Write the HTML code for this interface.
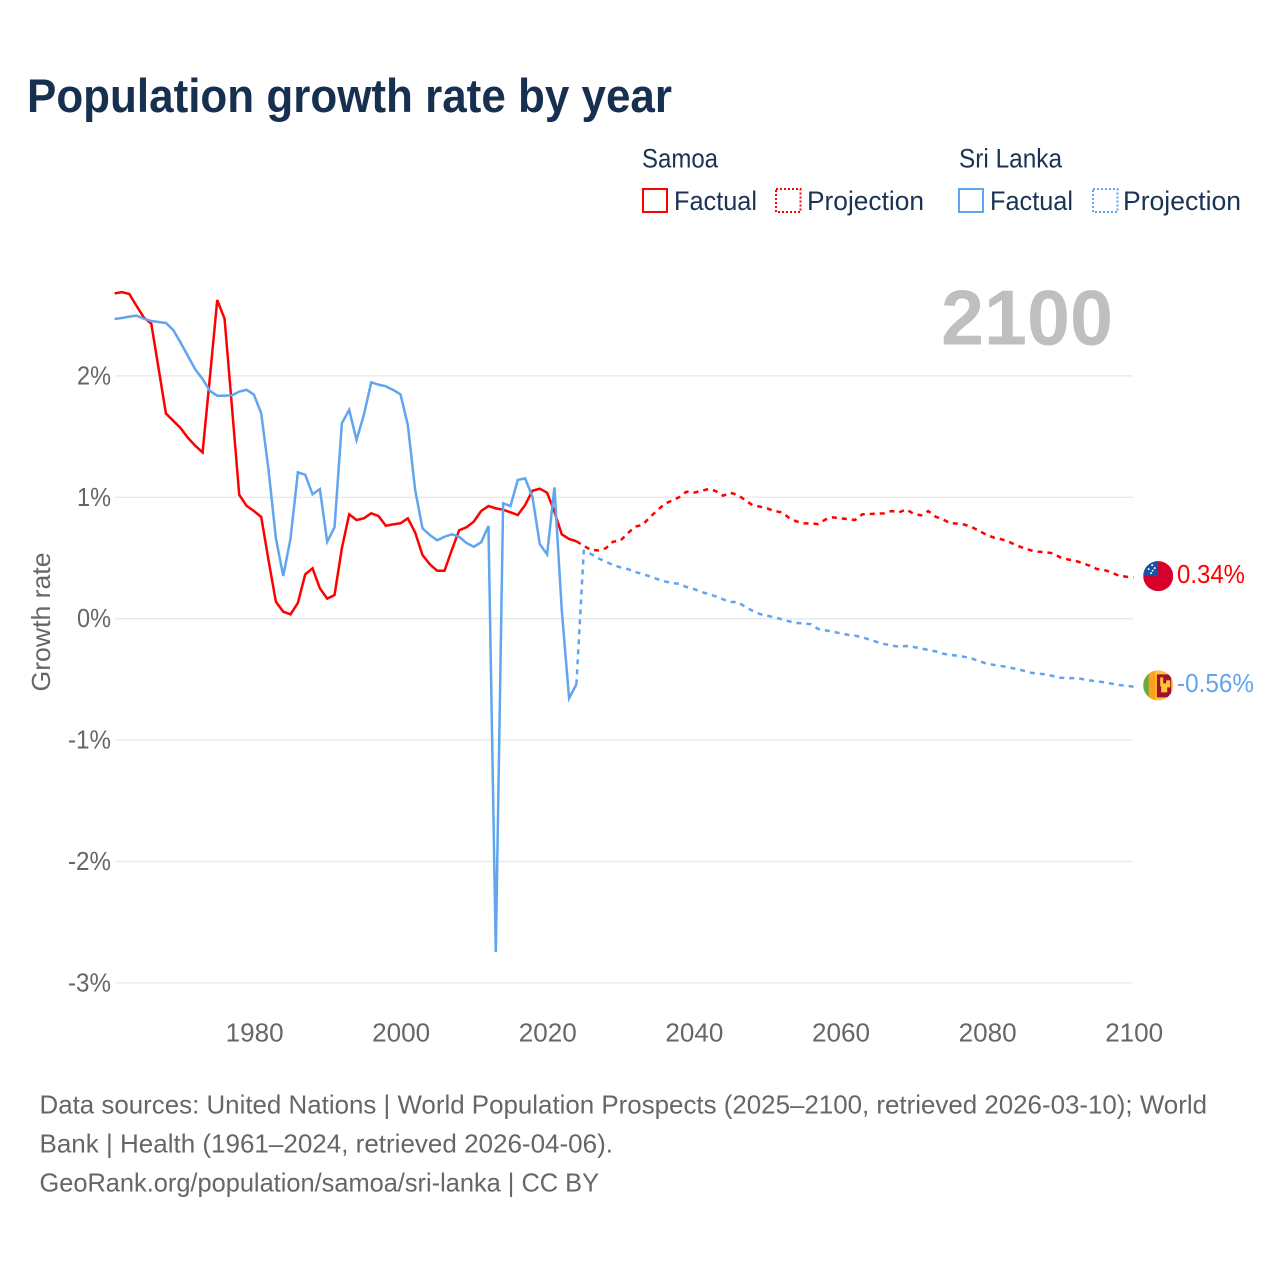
<!DOCTYPE html>
<html lang="en">
<head>
<meta charset="utf-8">
<title>Population growth rate by year</title>
<style>
html,body{margin:0;padding:0;background:#fff;}
svg{display:block;font-family:"Liberation Sans",sans-serif;}
.lg{font-size:26.5px;fill:#1a3353;}
.tick{font-size:26px;fill:#666;}
.foot{font-size:26px;fill:#666;}
</style>
</head>
<body>
<svg id="chart" width="1280" height="1280" viewBox="0 0 1280 1280" xmlns="http://www.w3.org/2000/svg">
  <rect width="1280" height="1280" fill="#fff"/>
  <text x="27" y="112" font-size="47" font-weight="bold" fill="#18304f" textLength="645" lengthAdjust="spacingAndGlyphs">Population growth rate by year</text>

  <g>
    <text class="lg" x="642" y="167.5" textLength="76" lengthAdjust="spacingAndGlyphs">Samoa</text>
    <rect x="643" y="189" width="24" height="23" fill="none" stroke="#ff0000" stroke-width="2"/>
    <text class="lg" x="674" y="210" textLength="83" lengthAdjust="spacingAndGlyphs">Factual</text>
    <rect x="776" y="189" width="24.5" height="23" fill="none" stroke="#ff0000" stroke-width="2" stroke-dasharray="2 2"/>
    <text class="lg" x="807" y="210" textLength="117" lengthAdjust="spacingAndGlyphs">Projection</text>
    <text class="lg" x="959" y="167.5" textLength="103" lengthAdjust="spacingAndGlyphs">Sri Lanka</text>
    <rect x="959" y="189" width="24" height="23" fill="none" stroke="#60a5ee" stroke-width="2"/>
    <text class="lg" x="990" y="210" textLength="83" lengthAdjust="spacingAndGlyphs">Factual</text>
    <rect x="1093" y="189" width="24.5" height="23" fill="none" stroke="#60a5ee" stroke-width="2" stroke-dasharray="2 2"/>
    <text class="lg" x="1123" y="210" textLength="118" lengthAdjust="spacingAndGlyphs">Projection</text>
  </g>

  <text x="941" y="344.5" font-size="78" font-weight="bold" fill="#bfbfbf" textLength="172" lengthAdjust="spacingAndGlyphs">2100</text>

  <g id="grid"></g>
  <g id="yticks"></g>
  <g id="xticks"></g>
  <text transform="translate(50,622) rotate(-90)" text-anchor="middle" font-size="26" fill="#666" textLength="139" lengthAdjust="spacingAndGlyphs">Growth rate</text>

  <g id="series"></g>

  <defs>
    <clipPath id="flag-clip"><circle cx="0" cy="0" r="15"/></clipPath>
  </defs>
  <g id="flag-samoa" clip-path="url(#flag-clip)">
    <rect x="-15" y="-16" width="30" height="32" fill="#d8002a"/>
    <rect x="-15" y="-16" width="15" height="16" fill="#1553a5"/>
    <circle cx="-6" cy="-11" r="1" fill="#fff"/>
    <circle cx="-3.5" cy="-8" r="1" fill="#fff"/>
    <circle cx="-9.5" cy="-7" r="1" fill="#fff"/>
    <circle cx="-5.5" cy="-5.5" r="0.9" fill="#fff"/>
    <circle cx="-7" cy="-3" r="1" fill="#fff"/>
  </g>
  <g id="flag-sri-lanka" clip-path="url(#flag-clip)">
    <rect x="-15" y="-16" width="30" height="32" fill="#fdc63a"/>
    <rect x="-15" y="-16" width="5.7" height="32" fill="#6fa843"/>
    <rect x="-9.3" y="-16" width="6.3" height="32" fill="#ff9f1c"/>
    <rect x="-1.3" y="-11" width="14.3" height="23" fill="#a5102f"/>
    <path d="M2 -8 h3 v6 h3 v-3 h4 v7 h-3 v5 h-6 v-6 h-1 z" fill="#fdc63a"/>
  </g>
  <text id="end-label-samoa" font-size="26" fill="#ff0000" textLength="68" lengthAdjust="spacingAndGlyphs"></text>
  <text id="end-label-sri-lanka" font-size="26" fill="#60a5ee" textLength="77" lengthAdjust="spacingAndGlyphs"></text>

  <g>
    <text class="foot" x="39.5" y="1113.5" textLength="1167.5" lengthAdjust="spacingAndGlyphs">Data sources: United Nations | World Population Prospects (2025–2100, retrieved 2026-03-10); World</text>
    <text class="foot" x="39.5" y="1152.5" textLength="573.5" lengthAdjust="spacingAndGlyphs">Bank | Health (1961–2024, retrieved 2026-04-06).</text>
    <text class="foot" x="39.5" y="1191.5" textLength="559.5" lengthAdjust="spacingAndGlyphs">GeoRank.org/population/samoa/sri-lanka | CC BY</text>
  </g>
</svg>
<script>
const firstFactualYear = 1961;
const firstProjectionYear = 2025;
const yTickValues = [2, 1, 0, -1, -2, -3];
const yTickLabels = ["2%", "1%", "0%", "-1%", "-2%", "-3%"];
const xTickYears = [1980, 2000, 2020, 2040, 2060, 2080, 2100];
const samoaFactual = [2.68,2.69,2.675,2.575,2.48,2.43,2.06,1.69,1.63,1.57,1.49,1.425,1.37,1.99,2.625,2.47,1.75,1.02,0.93,0.887,0.838,0.48,0.14,0.058,0.036,0.13,0.365,0.415,0.25,0.165,0.195,0.58,0.86,0.813,0.827,0.868,0.846,0.766,0.777,0.786,0.827,0.71,0.525,0.448,0.395,0.395,0.566,0.728,0.753,0.80,0.887,0.928,0.909,0.898,0.876,0.854,0.936,1.054,1.071,1.038,0.881,0.695,0.657,0.638];
const sriLankaFactual = [2.469,2.477,2.488,2.496,2.471,2.452,2.444,2.436,2.378,2.274,2.164,2.054,1.974,1.876,1.837,1.837,1.84,1.87,1.886,1.845,1.692,1.225,0.662,0.352,0.662,1.206,1.186,1.025,1.068,0.634,0.753,1.61,1.72,1.472,1.678,1.947,1.928,1.914,1.884,1.848,1.595,1.06,0.745,0.689,0.646,0.675,0.695,0.675,0.624,0.593,0.629,0.764,-2.745,0.951,0.928,1.143,1.156,1.005,0.615,0.53,1.082,0.072,-0.656,-0.54];
const samoaProjection = [0.6,0.566,0.563,0.58,0.634,0.643,0.703,0.758,0.772,0.835,0.89,0.945,0.972,1.0,1.046,1.038,1.052,1.068,1.052,1.013,1.038,1.019,0.978,0.936,0.923,0.909,0.887,0.876,0.832,0.802,0.786,0.783,0.78,0.818,0.835,0.827,0.821,0.813,0.86,0.862,0.865,0.868,0.887,0.876,0.90,0.865,0.851,0.887,0.84,0.818,0.786,0.783,0.774,0.753,0.722,0.689,0.667,0.654,0.634,0.604,0.582,0.563,0.552,0.547,0.539,0.505,0.489,0.478,0.459,0.437,0.409,0.401,0.382,0.354,0.346,0.34];
const sriLankaProjection = [0.56,0.533,0.497,0.47,0.442,0.423,0.409,0.385,0.368,0.349,0.327,0.308,0.294,0.288,0.261,0.245,0.222,0.203,0.184,0.16,0.138,0.138,0.099,0.066,0.039,0.025,0.012,-0.005,-0.021,-0.035,-0.038,-0.046,-0.085,-0.096,-0.107,-0.12,-0.132,-0.14,-0.153,-0.173,-0.192,-0.208,-0.222,-0.23,-0.225,-0.233,-0.244,-0.258,-0.269,-0.288,-0.299,-0.305,-0.315,-0.329,-0.351,-0.37,-0.381,-0.39,-0.401,-0.414,-0.428,-0.445,-0.453,-0.458,-0.472,-0.486,-0.491,-0.488,-0.497,-0.508,-0.516,-0.524,-0.535,-0.546,-0.552,-0.56];

const NS = "http://www.w3.org/2000/svg";
function xScale(year) { return 1133.5 - (2100 - year) * 7.33; }
function yScale(value) { return 618.7 - value * 121.4; }
function make(tag, attrs, parent) {
  const el = document.createElementNS(NS, tag);
  for (const k in attrs) el.setAttribute(k, attrs[k]);
  parent.appendChild(el);
  return el;
}
function pointsFor(values, startYear) {
  return values.map((v, i) => xScale(startYear + i).toFixed(2) + "," + yScale(v).toFixed(2));
}

const gridG = document.getElementById("grid");
const yG = document.getElementById("yticks");
yTickValues.forEach((v, i) => {
  const line = make("line", {x1: 115, x2: 1133, y1: yScale(v), y2: yScale(v), stroke: "#e9e9e9", "stroke-width": 1.3}, gridG);
  
  
  const label = yTickLabels[i];
  const t = make("text", {class: "tick", x: 111, y: yScale(v) + 8.5, "text-anchor": "end", textLength: label.length > 2 ? 43 : 34, lengthAdjust: "spacingAndGlyphs"}, yG);
  
  
  t.textContent = label;
});

const xG = document.getElementById("xticks");
xTickYears.forEach((yr) => {
  const t = make("text", {class: "tick", x: xScale(yr) + 0.7, y: 1041.5, "text-anchor": "middle", textLength: 58, lengthAdjust: "spacingAndGlyphs"}, xG);
  
  
  t.textContent = yr;
});

const seriesG = document.getElementById("series");
function drawSeries(factual, projection, color, slug) {
  const fp = pointsFor(factual, firstFactualYear);
  const pp = pointsFor(projection, firstProjectionYear);
  const dashed = make("polyline", {points: [fp[fp.length - 1]].concat(pp).join(" "), fill: "none", stroke: color, "stroke-width": 2.5, "stroke-dasharray": "5 5", "stroke-linejoin": "round"}, seriesG);
  
  
  const solid = make("polyline", {points: fp.join(" "), fill: "none", stroke: color, "stroke-width": 2.5, "stroke-linejoin": "miter"}, seriesG);
  
  
}
drawSeries(sriLankaFactual, sriLankaProjection, "#60a5ee", "sri-lanka");
drawSeries(samoaFactual, samoaProjection, "#ff0000", "samoa");
/* Sri Lanka's factual trace sits above Samoa's where they cross */
seriesG.appendChild(seriesG.children[1]);

function placeEnd(flagId, labelId, values) {
  const last = values[values.length - 1];
  const cx = xScale(2100) + 24.7;
  const cy = yScale(last);
  document.getElementById(flagId).setAttribute("transform", "translate(" + cx + "," + (cy - 1.3) + ")");
  const lab = document.getElementById(labelId);
  lab.setAttribute("x", cx + 18.8);
  lab.setAttribute("y", cy + 5.5);
  lab.textContent = last.toFixed(2) + "%";
}
placeEnd("flag-samoa", "end-label-samoa", samoaProjection);
placeEnd("flag-sri-lanka", "end-label-sri-lanka", sriLankaProjection);
</script>
</body>
</html>
